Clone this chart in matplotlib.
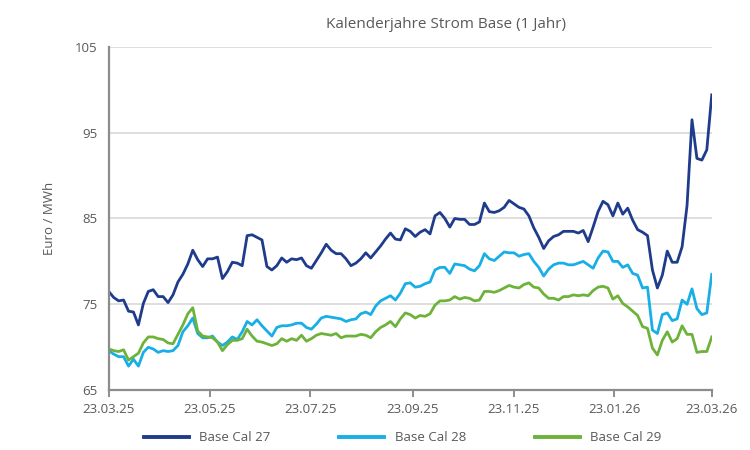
import matplotlib

matplotlib.use("Agg")
import matplotlib.dates as mdates  # noqa: E402
import matplotlib.pyplot as plt  # noqa: E402
import pandas as pd  # noqa: E402

# sampling dates, roughly every three days over the year
dates = pd.date_range("2025-03-23", "2026-03-23", periods=123)

cal27 = [
    76.5, 75.8, 75.4, 75.5, 74.2, 74.1, 72.6, 75.1, 76.5, 76.7,
    75.9, 75.9, 75.2, 76.1, 77.6, 78.5, 79.7, 81.3, 80.2, 79.4,
    80.3, 80.3, 80.5, 78.0, 78.8, 79.9, 79.8, 79.5, 83.0, 83.1,
    82.8, 82.5, 79.4, 79.0, 79.5, 80.4, 79.9, 80.3, 80.2, 80.4,
    79.5, 79.2, 80.1, 81.0, 82.0, 81.3, 80.9, 80.9, 80.3, 79.5,
    79.8, 80.3, 81.0, 80.4, 81.1, 81.8, 82.6, 83.3, 82.6, 82.5,
    83.8, 83.5, 82.9, 83.4, 83.7, 83.2, 85.3, 85.7, 85.0, 84.0,
    85.0, 84.9, 84.9, 84.3, 84.3, 84.6, 86.8, 85.8, 85.7, 85.9,
    86.3, 87.1, 86.7, 86.3, 86.1, 85.3, 83.9, 82.8, 81.5, 82.4,
    82.9, 83.1, 83.5, 83.5, 83.5, 83.3, 83.6, 82.3, 84.0, 85.8,
    87.0, 86.6, 85.3, 86.8, 85.5, 86.2, 84.8, 83.7, 83.4, 83.0,
    79.0, 76.9, 78.4, 81.2, 79.9, 79.9, 81.7, 86.5, 96.5, 92.0,
    91.8, 93.0, 99.4,
]
cal28 = [
    69.6, 69.2, 68.9, 68.9, 67.8, 68.6, 67.8, 69.4, 70.0, 69.8,
    69.4, 69.6, 69.5, 69.6, 70.2, 71.8, 72.5, 73.4, 71.6, 71.1,
    71.1, 71.3, 70.6, 70.2, 70.6, 71.2, 70.9, 71.8, 73.0, 72.6,
    73.2, 72.5, 71.9, 71.3, 72.3, 72.5, 72.5, 72.6, 72.8, 72.8,
    72.3, 72.1, 72.7, 73.4, 73.6, 73.5, 73.4, 73.3, 73.0, 73.2,
    73.3, 73.9, 74.1, 73.8, 74.8, 75.4, 75.7, 76.0, 75.5, 76.3,
    77.4, 77.5, 77.0, 77.1, 77.4, 77.6, 79.0, 79.3, 79.3, 78.6,
    79.7, 79.6, 79.5, 79.1, 78.9, 79.5, 80.9, 80.3, 80.1, 80.6,
    81.1, 81.0, 81.0, 80.6, 80.8, 80.9, 80.0, 79.3, 78.3, 79.1,
    79.6, 79.8, 79.8, 79.6, 79.6, 79.8, 80.0, 79.6, 79.2, 80.4,
    81.2, 81.1, 80.0, 80.0, 79.3, 79.6, 78.6, 78.4, 76.9, 77.0,
    72.0, 71.6, 73.8, 74.0, 73.1, 73.3, 75.5, 75.0, 76.8, 74.5,
    73.8, 74.0, 78.5,
]
cal29 = [
    69.8, 69.6, 69.5, 69.7, 68.5, 68.9, 69.3, 70.5, 71.2, 71.2,
    71.0, 70.9, 70.5, 70.4, 71.5, 72.6, 73.9, 74.6, 71.9, 71.3,
    71.2, 71.1, 70.6, 69.6, 70.3, 70.8, 70.8, 71.0, 72.1, 71.3,
    70.7, 70.6, 70.4, 70.2, 70.4, 71.0, 70.7, 71.0, 70.8, 71.4,
    70.7, 71.0, 71.4, 71.6, 71.5, 71.4, 71.6, 71.1, 71.3, 71.3,
    71.3, 71.5, 71.4, 71.1, 71.8, 72.3, 72.6, 73.0, 72.4, 73.3,
    74.0, 73.8, 73.4, 73.7, 73.6, 73.9, 74.9, 75.4, 75.4, 75.5,
    75.9, 75.6, 75.8, 75.7, 75.4, 75.5, 76.5, 76.5, 76.4, 76.6,
    76.9, 77.2, 77.0, 76.9, 77.3, 77.5, 77.0, 76.9, 76.2, 75.7,
    75.7, 75.5, 75.9, 75.9, 76.1, 76.0, 76.1, 76.0, 76.6, 77.0,
    77.1, 76.9, 75.6, 76.0, 75.1, 74.7, 74.2, 73.7, 72.4, 72.2,
    69.9, 69.1, 70.8, 71.8, 70.6, 71.0, 72.5, 71.5, 71.5, 69.4,
    69.5, 69.5, 71.2,
]

series = [
    ("Base Cal 27", cal27, "#1f3c8c"),
    ("Base Cal 28", cal28, "#18aee6"),
    ("Base Cal 29", cal29, "#6db33a"),
]
tick_dates = pd.to_datetime(
    ["2025-03-23", "2025-05-23", "2025-07-23", "2025-09-23",
     "2025-11-23", "2026-01-23", "2026-03-23"]
)
y_ticks = [65, 75, 85, 95, 105]

TEXT = "#595959"
plt.rcParams.update({"font.family": "Open Sans", "font.size": 9})

fig = plt.figure(figsize=(7.5, 4.5), dpi=100)
ax = fig.add_axes([0.145, 0.133, 0.804, 0.763])

for label, values, color in series:
    ax.plot(dates, values, color=color, linewidth=2.0, label=label)

ax.set_xlim(tick_dates[0], tick_dates[-1])
ax.set_ylim(65, 105)
ax.set_yticks(y_ticks)
ax.set_xticks(tick_dates)
ax.xaxis.set_major_formatter(mdates.DateFormatter("%d.%m.%y"))
ax.grid(axis="y", color="#d9d9d9", linewidth=1.2)
ax.set_axisbelow(True)

for side in ("top", "right"):
    ax.spines[side].set_visible(False)
for side in ("left", "bottom"):
    ax.spines[side].set_color("#8c8c8c")
    ax.spines[side].set_linewidth(1.6)

ax.tick_params(axis="x", colors=TEXT, labelsize=9.5, length=5, width=1.4,
               color="#8c8c8c", pad=4)
ax.tick_params(axis="y", colors=TEXT, labelsize=9.5, length=0, pad=8)
ax.set_ylabel("Euro / MWh", color=TEXT, fontsize=9.5, labelpad=14)

fig.text(0.595, 0.945, "Kalenderjahre Strom Base (1 Jahr)", ha="center",
         va="center", fontsize=11, color=TEXT)

fig.legend(loc="lower center", bbox_to_anchor=(0.537, -0.014), ncol=3,
           frameon=False, handlelength=3.4, columnspacing=5.2,
           fontsize=9.5, labelcolor=TEXT)
for line in fig.legends[0].get_lines():
    line.set_linewidth(2.8)

fig.savefig("out.png", dpi=100)
plt.close(fig)
